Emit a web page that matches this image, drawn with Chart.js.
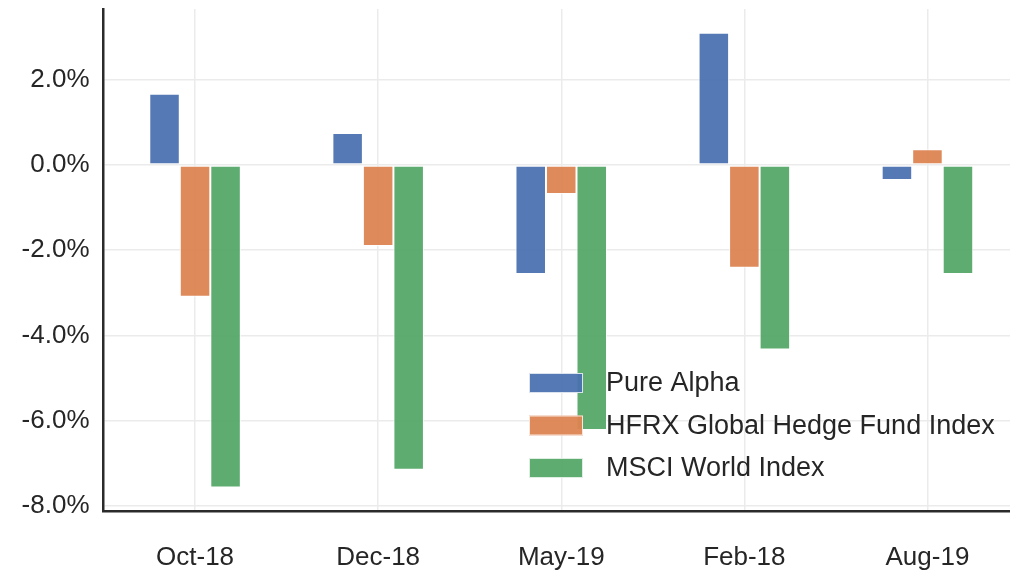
<!DOCTYPE html>
<html>
<head>
<meta charset="utf-8">
<script src="https://cdn.jsdelivr.net/npm/chart.js@4/dist/chart.umd.min.js"></script>
<style>
  html, body { margin: 0; padding: 0; background: #ffffff; overflow: hidden; width: 1010px; height: 572px; }
  #wrap { position: absolute; left: 0; top: 0; width: 1019px; height: 572px; }
</style>
</head>
<body>
<div id="wrap"><canvas id="c"></canvas></div>
<script>
const categories = ['Oct-18', 'Dec-18', 'May-19', 'Feb-18', 'Aug-19'];
const seriesNames = ['Pure Alpha', 'HFRX Global Hedge Fund Index', 'MSCI World Index'];
const pureAlpha = [1.67, 0.75, -2.56, 3.10, -0.35];
const hfrx = [-3.09, -1.90, -0.68, -2.41, 0.37];
const msci = [-7.57, -7.15, -6.22, -4.33, -2.56];
const yTicks = [-8, -6, -4, -2, 0, 2];
const colors = ['rgba(76,114,176,0.95)', 'rgba(221,132,82,0.95)', 'rgba(85,168,104,0.95)'];

const textColor = '#262626';
const fontFamily = "'Liberation Sans', Arial, sans-serif";

const legendPlugin = {
  id: 'insideLegend',
  afterDatasetsDraw(chart) {
    const ctx = chart.ctx;
    const x0 = 529, sw = 54, sh = 20, tx = 606;
    const rows = [383, 425.5, 468];
    ctx.save();
    ctx.font = '27px ' + fontFamily;
    ctx.textBaseline = 'middle';
    ctx.textAlign = 'left';
    chart.data.datasets.forEach((ds, i) => {
      const y = rows[i];
      ctx.fillStyle = ds.backgroundColor;
      ctx.fillRect(x0, y - sh / 2, sw, sh);
      ctx.strokeStyle = 'rgba(255,255,255,0.8)';
      ctx.lineWidth = 1;
      ctx.strokeRect(x0 + 0.5, y - sh / 2 + 0.5, sw - 1, sh - 1);
      ctx.fillStyle = textColor;
      ctx.fillText(ds.label, tx, y + 1);
    });
    ctx.restore();
  }
};

const datasets = [pureAlpha, hfrx, msci].map((vals, i) => ({
  label: seriesNames[i],
  data: vals,
  backgroundColor: colors[i],
  borderColor: 'rgba(255,255,255,0.85)',
  borderWidth: 1,
  borderSkipped: false,
  categoryPercentage: 0.5,
  barPercentage: 1.0
}));

new Chart(document.getElementById('c'), {
  type: 'bar',
  data: { labels: categories, datasets },
  plugins: [legendPlugin],
  options: {
    responsive: true,
    maintainAspectRatio: false,
    animation: false,
    layout: { padding: { top: 9, left: 0, right: 0, bottom: 0 } },
    plugins: {
      legend: { display: false },
      tooltip: { enabled: false }
    },
    scales: {
      x: {
        offset: true,
        grid: { offset: false, color: '#ebebeb', lineWidth: 1.5, drawTicks: false },
        border: { display: true, color: '#2b2b2b', width: 2.5 },
        ticks: { color: textColor, font: { family: fontFamily, size: 26 }, padding: 31, maxRotation: 0 },
        afterFit(scale) { scale.height = 61; scale.paddingLeft = 0; scale.paddingRight = 0; }
      },
      y: {
        min: -8.12,
        max: 3.66,
        grid: { color: '#ebebeb', lineWidth: 1.5, drawTicks: false },
        border: { display: true, color: '#2b2b2b', width: 2.5 },
        ticks: {
          color: textColor,
          font: { family: fontFamily, size: 26 },
          padding: 14,
          callback: (v) => v.toFixed(1) + '%'
        },
        afterBuildTicks(scale) { scale.ticks = yTicks.map(v => ({ value: v })); },
        afterFit(scale) { scale.width = 103.5; scale.paddingTop = 0; scale.paddingBottom = 0; }
      }
    }
  }
});
</script>
</body>
</html>
